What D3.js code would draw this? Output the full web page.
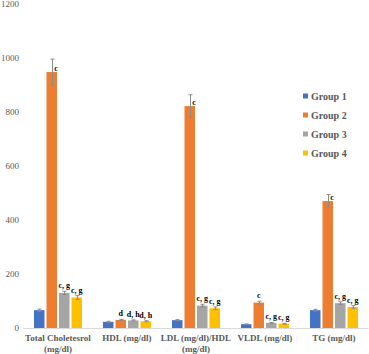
<!DOCTYPE html>
<html>
<head>
<meta charset="utf-8">
<script src="https://cdn.jsdelivr.net/npm/d3@7"></script>
<style>
  body { margin: 0; background: #fff; }
  svg { display: block; }
</style>
</head>
<body>
<div id="chart"></div>
<script>
// data
const categories = ["Total Choletesrol|(mg/dl)", "HDL (mg/dl)", "LDL (mg/dl)/HDL|(mg/dl)", "VLDL (mg/dl)", "TG (mg/dl)"];
const groups = ["Group 1", "Group 2", "Group 3", "Group 4"];
const colors = ["#4472C4", "#ED7D31", "#A5A5A5", "#FFC000"];

const group1 = [66, 23, 29, 14, 66];
const group2 = [948, 30, 822, 94, 470];
const group3 = [130, 28, 83, 19, 92];
const group4 = [113, 25, 73, 16, 78];

const err1 = [4, 2, 2, 1, 3];
const err2 = [48, 2, 42, 5, 24];
const err3 = [6, 2, 5, 1.5, 5];
const err4 = [7, 2, 5, 1.5, 5];

const labels1 = ["", "", "", "", ""];
const labels2 = ["c", "d", "c", "c", "c"];
const labels3 = ["c, g", "d, h", "c, g", "c, g", "c, g"];
const labels4 = ["c, g", "d, h", "c, g", "c, g", "c, g"];

const yTicks = [0, 200, 400, 600, 800, 1000, 1200];

const width = 369, height = 354;
const values = [group1, group2, group3, group4];
const errs = [err1, err2, err3, err4];
const labs = [labels1, labels2, labels3, labels4];

const svg = d3.select("#chart").append("svg")
  .attr("width", width)
  .attr("height", height);

const x0 = d3.scaleBand()
  .domain(categories)
  .range([23.5, 368.5])
  .paddingInner(0.304)
  .paddingOuter(0.152);

const x1 = d3.scaleBand()
  .domain(groups)
  .range([0, x0.bandwidth()])
  .paddingInner(0.16);

const y = d3.scaleLinear()
  .domain([0, 1200])
  .range([328, 4]);

// y tick labels (no axis line)
const yAxis = d3.axisLeft(y).tickValues(yTicks).tickFormat(d3.format("d")).tickSize(0).tickPadding(0);
const gy = svg.append("g").attr("transform", "translate(19,0)").call(yAxis);
gy.select(".domain").remove();
gy.selectAll("text")
  .attr("font-family", "'Liberation Serif', serif")
  .attr("font-size", 9)
  .attr("fill", "#595959");

// baseline
svg.append("line")
  .attr("x1", 23.5).attr("x2", 368.5)
  .attr("y1", y(0) + 0.5).attr("y2", y(0) + 0.5)
  .attr("stroke", "#d9d9d9");

// build rows
const rows = [];
categories.forEach((c, ci) => {
  groups.forEach((g, gi) => {
    rows.push({ cat: c, group: g, gi: gi, v: values[gi][ci], e: errs[gi][ci], lab: labs[gi][ci] });
  });
});

const bars = svg.append("g");
bars.selectAll("rect")
  .data(rows)
  .join("rect")
  .attr("x", d => x0(d.cat) + x1(d.group))
  .attr("y", d => y(d.v))
  .attr("width", x1.bandwidth())
  .attr("height", d => y(0) - y(d.v))
  .attr("fill", d => colors[d.gi]);

// error bars
const eb = svg.append("g").attr("stroke", "#8c8c8c").attr("stroke-width", 1);
rows.forEach(d => {
  const cx = Math.round(x0(d.cat) + x1(d.group) + x1.bandwidth() / 2) + 0.5;
  eb.append("line").attr("x1", cx).attr("x2", cx).attr("y1", y(d.v + d.e)).attr("y2", y(d.v - d.e));
  eb.append("line").attr("x1", cx - 2).attr("x2", cx + 2).attr("y1", y(d.v + d.e)).attr("y2", y(d.v + d.e));
  eb.append("line").attr("x1", cx - 2).attr("x2", cx + 2).attr("y1", y(d.v - d.e)).attr("y2", y(d.v - d.e));
});

// data labels
svg.append("g").selectAll("text")
  .data(rows.filter(d => d.lab !== ""))
  .join("text")
  .attr("x", d => {
    const cx = x0(d.cat) + x1(d.group) + x1.bandwidth() / 2;
    return d.e > 20 ? cx + 2.5 : cx;
  })
  .attr("y", d => d.e > 20 ? y(d.v) - 1 : y(d.v + d.e) - 3)
  .attr("text-anchor", d => d.e > 20 ? "start" : "middle")
  .attr("font-family", "'Liberation Serif', serif")
  .attr("font-weight", "bold")
  .attr("font-size", 8)
  .attr("fill", "#000")
  .text(d => d.lab);

// category labels
const catG = svg.append("g");
categories.forEach(c => {
  const lines = c.split("|");
  const t = catG.append("text")
    .attr("x", x0(c) + x0.bandwidth() / 2)
    .attr("y", 341)
    .attr("text-anchor", "middle")
    .attr("font-family", "'Liberation Serif', serif")
    .attr("font-weight", "bold")
    .attr("font-size", 9)
    .attr("fill", "#595959");
  lines.forEach((l, i) => {
    t.append("tspan")
      .attr("x", x0(c) + x0.bandwidth() / 2)
      .attr("dy", i === 0 ? 0 : 11)
      .text(l);
  });
});

// legend
const legend = svg.append("g").attr("transform", "translate(303,96)");
groups.forEach((g, i) => {
  const row = legend.append("g").attr("transform", `translate(0, ${i * 19})`);
  row.append("rect").attr("x", 0).attr("y", -2.5).attr("width", 5).attr("height", 5).attr("fill", colors[i]);
  row.append("text")
    .attr("x", 8)
    .attr("y", 3.5)
    .attr("font-family", "'Liberation Serif', serif")
    .attr("font-weight", "bold")
    .attr("font-size", 10)
    .attr("fill", "#595959")
    .text(g);
});
</script>
</body>
</html>
